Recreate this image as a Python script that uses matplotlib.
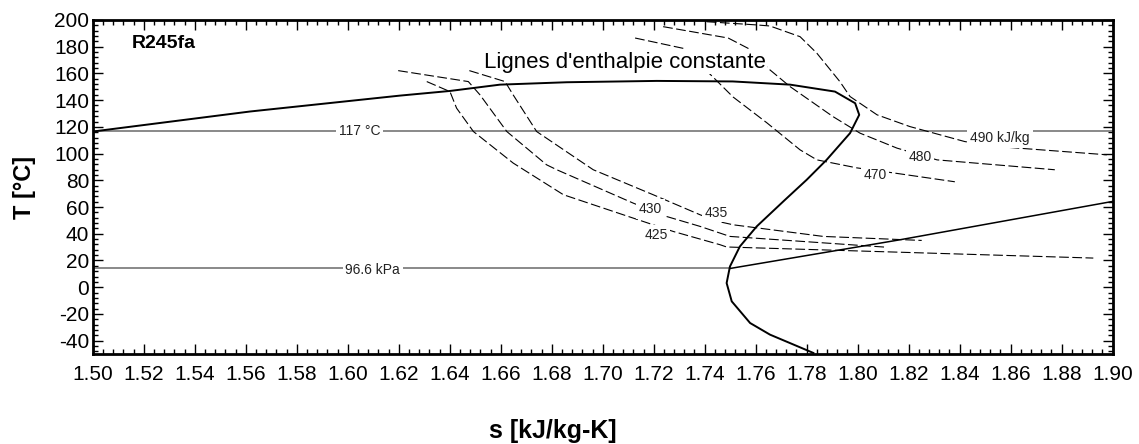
import matplotlib
matplotlib.use('Agg')
import matplotlib.pyplot as plt
from matplotlib.ticker import MultipleLocator

# saturation dome (liquid side -> critical point -> vapour side)
dome_s = [1.500, 1.5617, 1.6205, 1.6402, 1.6597, 1.6859, 1.7212, 1.7510, 1.7735, 1.7911,
          1.7990, 1.8006, 1.7970, 1.7878, 1.7800, 1.7715, 1.7604, 1.7538, 1.7499,
          1.7486, 1.7506, 1.7578, 1.7656, 1.7826]
dome_T = [116.5, 131.5, 143.4, 146.9, 151.6, 153.4, 154.4, 154.0, 151.6, 146.4,
          137.7, 129.0, 115.3, 95.3, 80.4, 65.4, 45.5, 30.5, 15.5,
          3.1, -10.6, -26.8, -35.5, -49.2]

# isobar 96.6 kPa in the superheated region
isobar_s = [1.7499, 1.8166, 1.900]
isobar_T = [14.0, 35.5, 64.2]

T_high = 117
T_low = 14
s_sat_low = 1.7499

# constant enthalpy lines
h425_s = [1.6310, 1.6401, 1.6427, 1.6493, 1.6649, 1.6846, 1.7198, 1.7277, 1.7460, 1.7486, 1.8924]
h425_T = [153.9, 146.4, 134.0, 116.5, 92.9, 69.2, 46.7, 41.7, 31.8, 30.1, 21.8]

h430_s = [1.6198, 1.6473, 1.6519, 1.6624, 1.6780, 1.6820, 1.7120, 1.7251, 1.7382, 1.7499, 1.8107]
h430_T = [162.1, 153.9, 143.9, 116.5, 91.6, 87.9, 62.9, 52.9, 45.5, 38.0, 30.0]

h435_s = [1.6477, 1.6617, 1.6649, 1.6741, 1.6924, 1.6963, 1.7198, 1.7382, 1.7453, 1.7512, 1.7865, 1.8251]
h435_T = [162.1, 153.9, 143.9, 116.5, 92.9, 87.9, 69.2, 54.2, 49.2, 46.7, 38.0, 35.0]

h470_s = [1.7127, 1.7315, 1.7432, 1.7511, 1.7644, 1.7774, 1.7840, 1.7997, 1.8138, 1.8381]
h470_T = [186.5, 178.8, 157.4, 142.4, 123.0, 102.8, 95.3, 89.3, 85.6, 78.9]

h480_s = [1.7237, 1.7492, 1.7570, 1.7648, 1.7735, 1.7903, 1.8009, 1.8154, 1.8311, 1.8773]
h480_T = [195.0, 186.5, 178.8, 163.9, 150.1, 127.7, 115.3, 104.1, 95.3, 87.9]

h490_s = [1.7408, 1.7604, 1.7656, 1.7774, 1.7840, 1.7930, 1.7970, 1.8076, 1.8205, 1.8420,
          1.8546, 1.8977]
h490_T = [198.7, 196.3, 195.5, 187.5, 175.1, 153.9, 142.7, 129.0, 120.2, 109.0,
          105.3, 99.1]

# line labels: (text, s, T)
labels = [('425', 1.7209, 39.3), ('430', 1.7186, 58.5), ('435', 1.7447, 55.9),
          ('470', 1.8068, 84.1), ('480', 1.8244, 97.8), ('490 kJ/kg', 1.8558, 111.6),
          ('117 °C', 1.6048, 117.0), ('96.6 kPa', 1.6098, 12.5)]

plt.rcParams['font.family'] = ['Liberation Sans', 'DejaVu Sans']
plt.rcParams['lines.scale_dashes'] = False
plt.rcParams['axes.unicode_minus'] = False

fig = plt.figure(figsize=(11.39, 4.44), dpi=100)
ax = fig.add_axes([0.0814, 0.2027, 0.8955, 0.7523])

gray = '#808080'
ax.plot([1.5, 1.9], [T_high, T_high], color=gray, lw=1.3, zorder=2)
ax.plot([1.5, s_sat_low], [T_low, T_low], color=gray, lw=1.3, zorder=2)
ax.plot(isobar_s, isobar_T, color='black', lw=1.1, zorder=3)
ax.plot(dome_s, dome_T, color='black', lw=1.4, zorder=3)

for s, T in [(h425_s, h425_T), (h430_s, h430_T), (h435_s, h435_T),
             (h470_s, h470_T), (h480_s, h480_T), (h490_s, h490_T)]:
    ax.plot(s, T, color='black', lw=0.8, dashes=(7, 2.5), zorder=3)

for txt, s, T in labels:
    ax.text(s, T, txt, fontsize=10, ha='center', va='center', color='#222222', zorder=5,
            bbox=dict(boxstyle='square,pad=0.2', fc='white', ec='none'))

ax.text(1.5152, 182.3, 'R245fa', fontsize=14, fontweight='bold', ha='left', va='center')
ax.text(1.7088, 168.5, "Lignes d'enthalpie constante", fontsize=16, ha='center', va='center',
        zorder=5, bbox=dict(boxstyle='square,pad=0.05', fc='white', ec='none'))

ax.set_xlim(1.5, 1.9)
ax.set_ylim(-50, 200)
ax.xaxis.set_major_locator(MultipleLocator(0.02))
ax.xaxis.set_minor_locator(MultipleLocator(0.004))
ax.yaxis.set_major_locator(MultipleLocator(20))
ax.yaxis.set_minor_locator(MultipleLocator(4))
ax.xaxis.set_major_formatter(plt.FormatStrFormatter('%.2f'))
ax.tick_params(which='both', direction='in', top=True, right=True, width=1.0)
ax.tick_params(which='major', length=7)
ax.tick_params(which='minor', length=3.5)
ax.tick_params(axis='x', labelsize=15, pad=8)
ax.tick_params(axis='y', labelsize=15, pad=2.5)
ax.set_yticks(range(-40, 201, 20))
for sp in ax.spines.values():
    sp.set_linewidth(2)

fig.text(24 / 1139, 0.5 + (444 / 2 - 187) / 444, 'T [°C]', rotation=90, fontsize=17,
         fontweight='bold', ha='center', va='center')
fig.text(553 / 1139, 1 - 431 / 444, 's [kJ/kg-K]', fontsize=18, fontweight='bold',
         ha='center', va='center')

fig.savefig('out.png', dpi=100)
